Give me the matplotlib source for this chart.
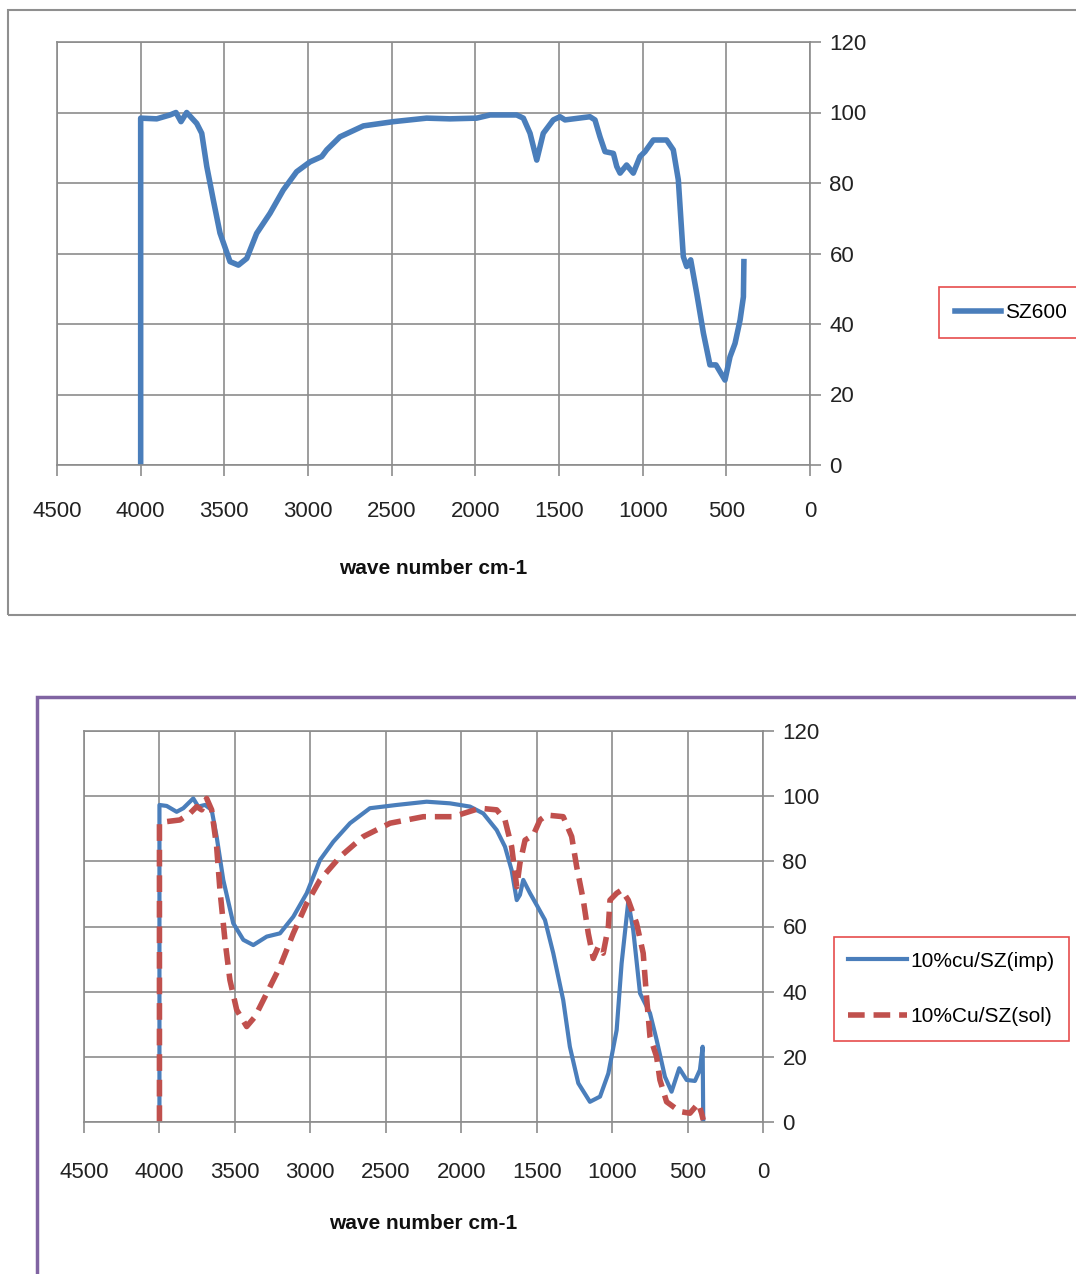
import matplotlib
matplotlib.use("Agg")
import matplotlib.pyplot as plt
from matplotlib.patches import Rectangle

plt.rcParams['font.family'] = ['Liberation Sans', 'DejaVu Sans']

# ---------------- data ----------------
sz600_x = [4000, 4000, 3952, 3904, 3825, 3789, 3759, 3725, 3665, 3635, 3605, 3566, 3526, 3466,
           3416, 3366, 3307, 3227, 3148, 3068, 2988, 2918, 2888, 2809, 2669, 2490, 2291, 2151,
           1992, 1912, 1753, 1713, 1673, 1633, 1594, 1534, 1494, 1464, 1315, 1285, 1255, 1225,
           1175, 1155, 1135, 1096, 1056, 1016, 986, 936, 857, 817, 787, 757, 737, 713, 677, 637,
           598, 562, 508, 478, 448, 418, 398, 395]
sz600_y = [0, 98.4, 98.3, 98.2, 99.3, 100, 97.4, 100, 96.9, 94.1, 84.7, 75.2, 65.8, 57.7,
           56.7, 58.6, 65.7, 71.4, 78.0, 83.2, 86.0, 87.5, 89.4, 93.1, 96.2, 97.4, 98.4, 98.2,
           98.4, 99.3, 99.3, 98.4, 94.1, 86.5, 94.1, 97.9, 98.8, 97.9, 98.8, 97.9, 93.1, 88.9,
           88.4, 84.7, 82.8, 85.1, 82.8, 87.5, 88.9, 92.2, 92.2, 89.4, 80.9, 59.1, 56.3, 58.2,
           48.7, 37.4, 28.4, 28.4, 24.1, 30.7, 34.5, 41.1, 47.7, 57.7]

imp_x = [4000, 4000, 3952, 3886, 3842, 3776, 3743, 3698, 3654, 3621, 3577, 3511, 3444, 3378,
         3289, 3201, 3113, 3024, 2936, 2848, 2737, 2605, 2428, 2229, 2075, 1942, 1854, 1765,
         1710, 1666, 1632, 1611, 1589, 1544, 1500, 1445, 1390, 1324, 1280, 1224, 1147, 1080,
         1025, 970, 937, 893, 860, 815, 749, 705, 650, 606, 555, 506, 451, 418, 400, 396]
imp_y = [0, 97.3, 97.0, 95.2, 96.3, 99.3, 96.8, 97.3, 95.8, 87.6, 74.3, 61.0, 55.9, 54.3,
         56.9, 57.9, 63.0, 70.2, 80.4, 86.0, 91.7, 96.3, 97.3, 98.3, 97.8, 96.8, 94.7, 89.6,
         84.5, 77.3, 68.1, 69.7, 74.3, 70.2, 66.6, 62.0, 51.8, 37.4, 23.1, 11.9, 6.2, 7.8,
         14.9, 28.2, 48.7, 67.6, 58.9, 39.5, 33.4, 25.2, 13.9, 9.3, 16.5, 12.9, 12.6, 16.0,
         23.1, 0]

sol_x = [4000, 4000, 3952, 3864, 3798, 3753, 3720, 3687, 3654, 3621, 3599, 3566, 3533, 3488,
         3422, 3367, 3289, 3201, 3113, 3024, 2936, 2803, 2649, 2472, 2251, 2053, 1876, 1765,
         1710, 1666, 1632, 1611, 1577, 1522, 1478, 1434, 1324, 1268, 1235, 1191, 1158, 1125,
         1092, 1059, 1025, 1014, 970, 937, 893, 838, 794, 772, 749, 705, 683, 639, 550, 484,
         429, 407, 396]
sol_y = [0, 91.7, 92.2, 92.7, 94.7, 96.8, 95.8, 99.3, 95.8, 84.5, 71.2, 55.9, 43.6, 34.4,
         29.3, 32.3, 39.5, 47.7, 57.9, 67.1, 74.3, 81.4, 87.6, 91.7, 93.7, 93.7, 96.3, 95.8,
         92.7, 84.5, 72.2, 79.4, 86.5, 88.1, 92.7, 94.2, 93.7, 87.6, 78.4, 68.1, 57.9, 50.2,
         53.8, 51.8, 59.9, 68.1, 70.2, 71.2, 68.1, 61.0, 51.8, 38.5, 26.2, 20.0, 12.9, 6.2,
         3.2, 2.7, 5.7, 2.7, 0.6]

x_ticks = [4500, 4000, 3500, 3000, 2500, 2000, 1500, 1000, 500, 0]
y_ticks = [0, 20, 40, 60, 80, 100, 120]
xlabel_text = "wave number cm-1"

BLUE = "#4A7EBB"
RED = "#C0504D"
GRID = "#8C8C8C"

W, H = 1076, 1274
fig = plt.figure(figsize=(W / 100, H / 100), dpi=100)

# outer frames
fig.patches.append(Rectangle((8 / W, 1 - 615 / H), (W + 10 - 8) / W, (615 - 10) / H,
                             transform=fig.transFigure, fill=False, edgecolor="#8F8F8F",
                             linewidth=1.5, zorder=0))
fig.patches.append(Rectangle((37 / W, 1 - (H + 20) / H), (W + 10 - 37) / W, (H + 20 - 697) / H,
                             transform=fig.transFigure, fill=False, edgecolor="#8064A2",
                             linewidth=2.5, zorder=0))


def style_axes(ax, xlabel_y, xpad):
    ax.set_xlim(4500, 0)
    ax.set_ylim(0, 120)
    ax.set_xticks(x_ticks)
    ax.set_yticks(y_ticks)
    ax.yaxis.tick_right()
    ax.grid(True, color=GRID, linewidth=1.2)
    ax.set_axisbelow(True)
    for s in ax.spines.values():
        s.set_color(GRID)
        s.set_linewidth(1.2)
    ax.tick_params(axis='x', direction='out', length=8, width=1.2, color=GRID,
                   pad=xpad, labelsize=16, labelcolor="#222222")
    ax.tick_params(axis='y', direction='out', length=8, width=1.2, color=GRID,
                   pad=6, labelsize=16, labelcolor="#222222", right=True, left=False)
    ax.set_xlabel(xlabel_text, fontsize=15, fontweight='bold', color="#111111")
    ax.xaxis.set_label_coords(0.5, xlabel_y)


# top chart
ax1 = fig.add_axes([57 / W, 1 - 465 / H, (810 - 57) / W, (465 - 42) / H])
style_axes(ax1, -0.222, 18)
ax1.plot(sz600_x, sz600_y, color=BLUE, linewidth=4, label="SZ600", solid_joinstyle='round')
leg1 = fig.legend(handles=ax1.get_lines(), loc='center', bbox_to_anchor=(1011 / W, 1 - 312.5 / H),
                  fontsize=15, frameon=True, fancybox=False, edgecolor="#E02020",
                  handlelength=2.2, handletextpad=0.2, borderpad=0.75, borderaxespad=0)
leg1.get_frame().set_linewidth(1.2)

# bottom chart
ax2 = fig.add_axes([84 / W, 1 - 1122 / H, (763 - 84) / W, (1122 - 731) / H])
style_axes(ax2, -0.235, 21)
ax2.plot(imp_x, imp_y, color=BLUE, linewidth=3, label="10%cu/SZ(imp)", solid_joinstyle='round')
ax2.plot(sol_x, sol_y, color=RED, linewidth=4, linestyle=(0, (3, 1.6)), label="10%Cu/SZ(sol)")
leg2 = fig.legend(handles=ax2.get_lines(), loc='center', bbox_to_anchor=(951.5 / W, 1 - 989 / H),
                  fontsize=15, frameon=True, fancybox=False, edgecolor="#E02020",
                  handlelength=2.8, handletextpad=0.2, borderpad=0.7, labelspacing=1.75,
                  borderaxespad=0)
leg2.get_frame().set_linewidth(1.2)

fig.savefig("out.png", dpi=100)
